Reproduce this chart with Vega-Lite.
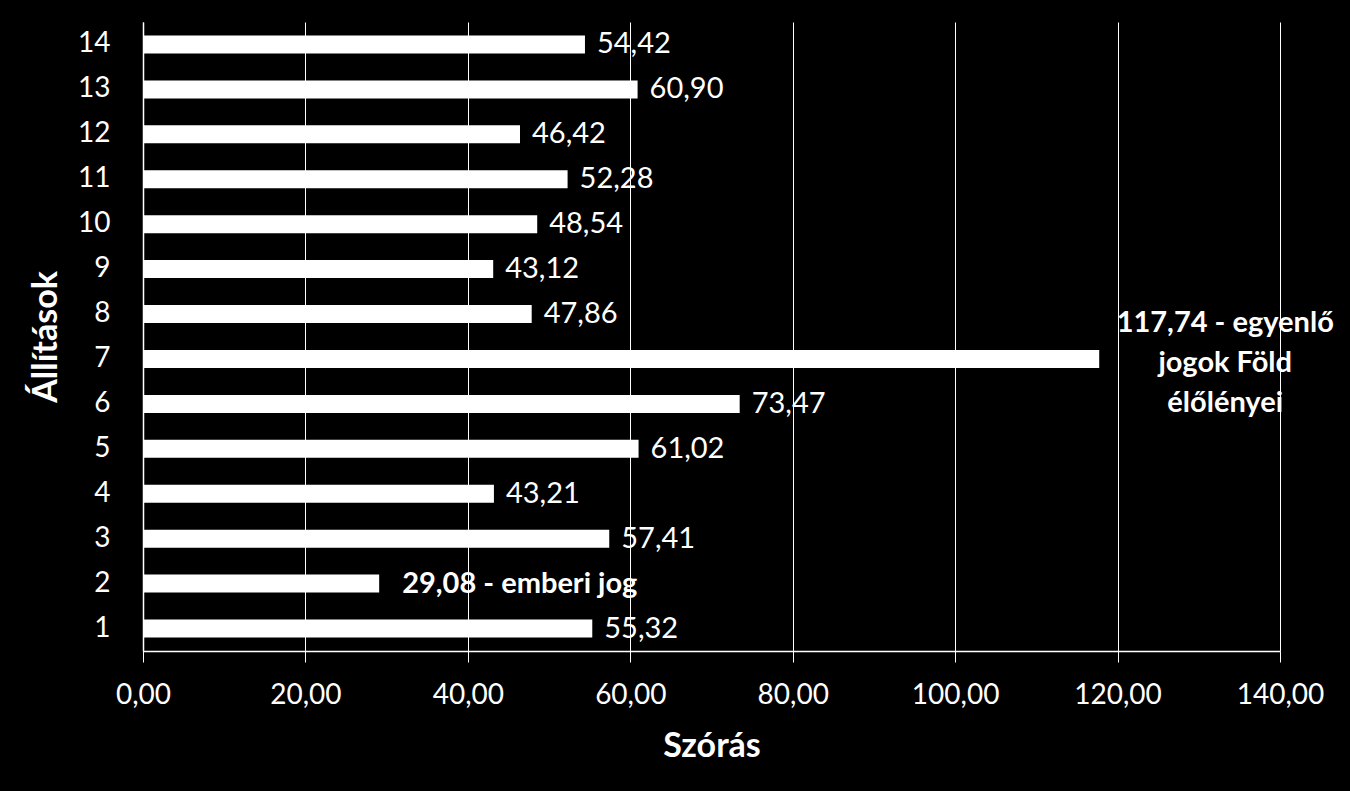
{
  "$schema": "https://vega.github.io/schema/vega-lite/v6.json",
  "width": 1137,
  "height": 629,
  "autosize": {"type": "none"},
  "padding": {"left": 143, "top": 22, "right": 70, "bottom": 140},
  "background": "#000000",
  "config": {
    "view": {"stroke": null},
    "font": "Lato"
  },
  "data": {
    "values": [
      {"statement": 1, "value": 55.32, "label": "55,32", "kind": "normal"},
      {"statement": 2, "value": 29.08, "label": "29,08 - emberi jog", "kind": "bold"},
      {"statement": 3, "value": 57.41, "label": "57,41", "kind": "normal"},
      {"statement": 4, "value": 43.21, "label": "43,21", "kind": "normal"},
      {"statement": 5, "value": 61.02, "label": "61,02", "kind": "normal"},
      {"statement": 6, "value": 73.47, "label": "73,47", "kind": "normal"},
      {"statement": 7, "value": 117.74, "label": "117,74 - egyenlő\njogok Föld\nélőlényei", "kind": "multi"},
      {"statement": 8, "value": 47.86, "label": "47,86", "kind": "normal"},
      {"statement": 9, "value": 43.12, "label": "43,12", "kind": "normal"},
      {"statement": 10, "value": 48.54, "label": "48,54", "kind": "normal"},
      {"statement": 11, "value": 52.28, "label": "52,28", "kind": "normal"},
      {"statement": 12, "value": 46.42, "label": "46,42", "kind": "normal"},
      {"statement": 13, "value": 60.90, "label": "60,90", "kind": "normal"},
      {"statement": 14, "value": 54.42, "label": "54,42", "kind": "normal"}
    ]
  },
  "encoding": {
    "y": {
      "field": "statement",
      "type": "ordinal",
      "sort": "descending",
      "scale": {"paddingInner": 0.6, "paddingOuter": 0.3},
      "axis": {
        "title": "Állítások",
        "titleFont": "Lato",
        "titleFontSize": 34,
        "titleFontWeight": "bold",
        "titleColor": "#ffffff",
        "titlePadding": 14,
        "labelFont": "Lato",
        "labelFontSize": 28,
        "labelColor": "#ffffff",
        "labelPadding": 33,
        "ticks": false,
        "domain": true,
        "domainColor": "#ffffff",
        "domainWidth": 1.5,
        "grid": false
      }
    },
    "x": {
      "field": "value",
      "type": "quantitative",
      "scale": {"domain": [0, 140], "nice": false},
      "axis": {
        "title": "Szórás",
        "titleFont": "Lato",
        "titleFontSize": 34,
        "titleFontWeight": "bold",
        "titleColor": "#ffffff",
        "titlePadding": 20,
        "values": [0, 20, 40, 60, 80, 100, 120, 140],
        "labelExpr": "replace(format(datum.value, '.2f'), '.', ',')",
        "labelFlush": false,
        "labelOverlap": false,
        "labelBound": false,
        "labelFont": "Lato",
        "labelFontSize": 28,
        "labelColor": "#ffffff",
        "labelPadding": 19,
        "tickSize": 11,
        "tickColor": "#ffffff",
        "domainColor": "#ffffff",
        "domainWidth": 1.5,
        "grid": true,
        "gridColor": "#ffffff",
        "gridWidth": 1,
        "gridOpacity": 1
      }
    }
  },
  "layer": [
    {"mark": {"type": "bar", "color": "#ffffff"}},
    {
      "transform": [{"filter": "datum.kind == 'normal'"}],
      "mark": {"type": "text", "align": "left", "baseline": "middle", "dx": 12, "fontSize": 29, "color": "#ffffff", "font": "Lato"},
      "encoding": {"text": {"field": "label"}}
    },
    {
      "transform": [{"filter": "datum.kind == 'bold'"}],
      "mark": {"type": "text", "align": "left", "baseline": "middle", "dx": 23, "fontSize": 29, "fontWeight": "bold", "color": "#ffffff", "font": "Lato"},
      "encoding": {"text": {"field": "label"}}
    },
    {
      "transform": [{"filter": "datum.kind == 'multi'"}],
      "mark": {"type": "text", "align": "center", "baseline": "middle", "dx": 126, "dy": -36, "fontSize": 29, "fontWeight": "bold", "lineBreak": "\n", "lineHeight": 40, "color": "#ffffff", "font": "Lato"},
      "encoding": {"text": {"field": "label"}}
    }
  ]
}
